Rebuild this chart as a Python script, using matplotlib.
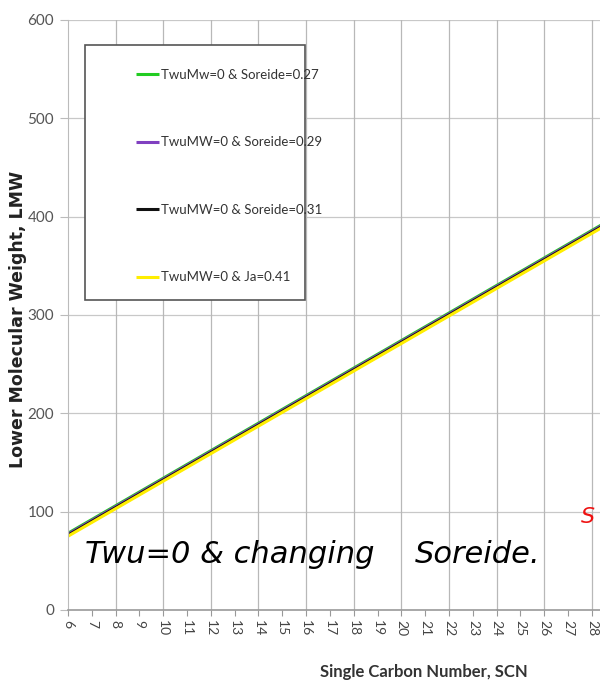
import matplotlib
matplotlib.use("Agg")
import matplotlib.pyplot as plt
from matplotlib.patches import Rectangle

plt.rcParams['font.family'] = ['Lato', 'DejaVu Sans']

scn = [6, 7, 8, 9, 10, 11, 12, 13, 14, 15, 16, 17, 18, 19, 20, 21, 22, 23, 24, 25, 26, 27, 28, 29]
lmw_soreide_027 = [78, 92, 106, 120, 134, 148, 162, 176, 190, 204, 218, 232, 246, 260, 274, 288, 302, 316, 330, 344, 358, 372, 386, 400]
lmw_soreide_029 = [77, 91, 105, 119, 133, 147, 161, 175, 189, 203, 217, 231, 245, 259, 273, 287, 301, 315, 329, 343, 357, 371, 385, 399]
lmw_soreide_031 = [76, 90, 104, 118, 132, 146, 160, 174, 188, 202, 216, 230, 244, 258, 272, 286, 300, 314, 328, 342, 356, 370, 384, 398]
lmw_ja_041 = [75, 89, 103, 117, 131, 145, 159, 173, 187, 201, 215, 229, 243, 257, 271, 285, 299, 313, 327, 341, 355, 369, 383, 397]

labels = ["TwuMw=0 & Soreide=0.27", "TwuMW=0 & Soreide=0.29",
          "TwuMW=0 & Soreide=0.31", "TwuMW=0 & Ja=0.41"]
colors = ["#22cc22", "#8040c0", "#111111", "#ffee00"]
series = [lmw_soreide_027, lmw_soreide_029, lmw_soreide_031, lmw_ja_041]

fig = plt.figure(figsize=(6.0, 6.93), dpi=100)
ax = fig.add_axes([0.1133, 0.1198, 0.8867, 0.8514])

handles = []
for ys, c, lab in zip(series, colors, labels):
    h, = ax.plot(scn, ys, color=c, lw=2.2, label=lab, solid_capstyle='butt')
    handles.append(h)

ax.set_xlim(6, 28.34)
ax.set_ylim(0, 600)
ax.set_xticks(scn[:-1])
ax.set_yticks([0, 100, 200, 300, 400, 500, 600])
ax.tick_params(axis='x', labelrotation=270, labelsize=10, colors='#444444',
               length=4, width=0.8, color='#999999', pad=3)
ax.tick_params(axis='y', labelsize=11, colors='#555555', length=6,
               width=0.8, color='#bbbbbb', pad=4)

# grid: horizontal every 100, vertical at even SCN only
for y in [100, 200, 300, 400, 500, 600]:
    ax.axhline(y, color='#c8c8c8', lw=0.9, zorder=0)
for x in range(8, 29, 2):
    ax.axvline(x, color='#b8b8b8', lw=0.9, zorder=0)

for s in ['top', 'right']:
    ax.spines[s].set_visible(False)
ax.spines['left'].set_color('#bbbbbb')
ax.spines['bottom'].set_color('#999999')
ax.spines['bottom'].set_linewidth(1.2)

fig.text(18.5 / 600, 1 - 319 / 693, "Lower Molecular Weight, LMW", rotation=90,
         ha='center', va='center', fontsize=12.5, fontweight='bold',
         color='#222222', family=['DejaVu Sans'])
fig.text(424 / 600, 1 - 672 / 693, "Single Carbon Number, SCN", ha='center',
         va='center', fontsize=12, color='#333333', fontweight='bold')

# legend frame
ax.add_patch(Rectangle((0.032, 0.5254), 0.4135, 0.4322, transform=ax.transAxes,
                       facecolor='white', edgecolor='#555555', lw=1.2, zorder=3))
leg = ax.legend(handles=handles, loc='upper left',
                bbox_to_anchor=(0.128, 0.917), frameon=False,
                fontsize=9.5, labelspacing=4.2, handlelength=1.75,
                handletextpad=0.15, borderpad=0, borderaxespad=0)
leg.set_zorder(4)
for t in leg.get_texts():
    t.set_color('#333333')

ax.text(6.71, 56, "Twu=0 & changing", fontsize=22, color='black',
        va='center', ha='left', family=['DejaVu Sans'], style='italic')
ax.text(20.58, 56, "Soreide.", fontsize=22, color='black',
        va='center', ha='left', family=['DejaVu Sans'], style='italic')
fig.text(588 / 600, 1 - 517 / 693, "S", fontsize=16, style='italic',
         color='#ee1111', va='center', ha='center', family=['DejaVu Sans'])

fig.savefig("out.png", dpi=100)
